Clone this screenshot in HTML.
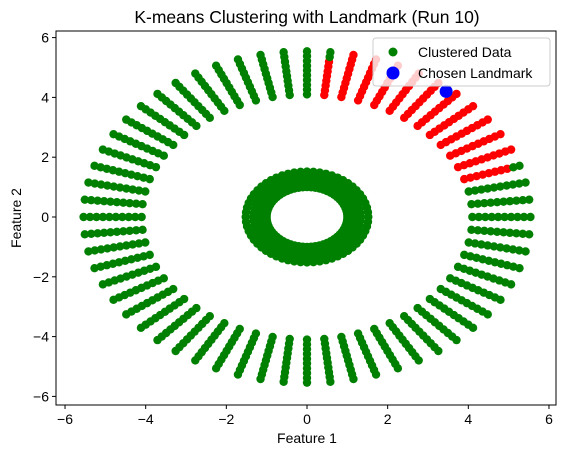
<!DOCTYPE html>
<html><head><meta charset="utf-8"><style>
body{margin:0;background:#fff;}
svg{display:block;font-family:"Liberation Sans","DejaVu Sans",sans-serif;}
</style></head><body>
<svg id="chart" width="565" height="455" viewBox="0 0 565 455">
<text x="307" y="23" font-size="17.5" text-anchor="middle">K-means Clustering with Landmark (Run 10)</text>
<g id="points"></g>
<rect x="56" y="31" width="500" height="374" fill="none" stroke="#000" stroke-width="1"/>
<g id="xticks"></g>
<g id="yticks"></g>
<text x="307" y="443" font-size="14" text-anchor="middle">Feature 1</text>
<text x="21" y="218" font-size="14" text-anchor="middle" transform="rotate(-90 21 218)">Feature 2</text>
<g>
<rect x="373" y="38" width="177" height="48" rx="3" fill="rgba(255,255,255,0.8)" stroke="#ccc"/>
<circle cx="393" cy="52" r="4.5" fill="green"/>
<text x="418" y="57" font-size="14">Clustered Data</text>
<circle cx="393" cy="73" r="6.5" fill="blue"/>
<text x="418" y="78" font-size="14">Chosen Landmark</text>
</g>
</svg>
<script>
const spokeAngles = [];for (let a=0;a<360;a+=6) spokeAngles.push(a);
const spokeRadii = [4.1,4.26,4.42,4.58,4.74,4.9,5.06,5.22,5.38,5.54];
const redFullAngles = [24,30,36,42,48,54,60,66,72,78];
const redPartialAngles = [18,84];
const innerRadii = [1.0,1.16,1.33,1.52];
const innerAngles = [];for (let a=0;a<360;a+=6) innerAngles.push(a);
const landmark = [3.45,4.2];
const xTicks = [-6,-4,-2,0,2,4,6];
const yTicks = [-6,-4,-2,0,2,4,6];

const NS="http://www.w3.org/2000/svg";
function sx(v){return 307+v*40.33;}
function sy(v){return 217-v*29.9;}
const g=document.getElementById('points');
function dot(x,y,r,c,name){
  const e=document.createElementNS(NS,'circle');
  e.setAttribute('cx',sx(x));e.setAttribute('cy',sy(y));e.setAttribute('r',r);e.setAttribute('fill',c);
  
  
  g.appendChild(e);
}
innerAngles.forEach(a=>innerRadii.forEach(r=>{
  const t=a*Math.PI/180;dot(r*Math.cos(t),r*Math.sin(t),4.2,'green','inner-point');
}));
spokeAngles.forEach(a=>{
  const t=a*Math.PI/180;
  spokeRadii.forEach((r,i)=>{
    let c='green';
    if(redFullAngles.includes(a)) c='red';
    else if(redPartialAngles.includes(a) && i<8) c='red';
    dot(r*Math.cos(t),r*Math.sin(t),4.2,c,'outer-point');
  });
});
dot(landmark[0],landmark[1],6.5,'blue','landmark-point');

const xg=document.getElementById('xticks');
xTicks.forEach(v=>{
  const l=document.createElementNS(NS,'line');
  l.setAttribute('x1',sx(v));l.setAttribute('x2',sx(v));l.setAttribute('y1',405);l.setAttribute('y2',409);l.setAttribute('stroke','#000');
  
  
  xg.appendChild(l);
  const t=document.createElementNS(NS,'text');
  t.setAttribute('x',sx(v));t.setAttribute('y',424);t.setAttribute('font-size','14');t.setAttribute('text-anchor','middle');
  t.textContent=(v<0?'\u2212'+(-v):v);
  
  
  xg.appendChild(t);
});
const yg=document.getElementById('yticks');
yTicks.forEach(v=>{
  const l=document.createElementNS(NS,'line');
  l.setAttribute('x1',52);l.setAttribute('x2',56);l.setAttribute('y1',sy(v));l.setAttribute('y2',sy(v));l.setAttribute('stroke','#000');
  
  
  yg.appendChild(l);
  const t=document.createElementNS(NS,'text');
  t.setAttribute('x',49);t.setAttribute('y',sy(v)+5);t.setAttribute('font-size','14');t.setAttribute('text-anchor','end');
  t.textContent=(v<0?'\u2212'+(-v):v);
  
  
  yg.appendChild(t);
});
</script>
</body></html>
